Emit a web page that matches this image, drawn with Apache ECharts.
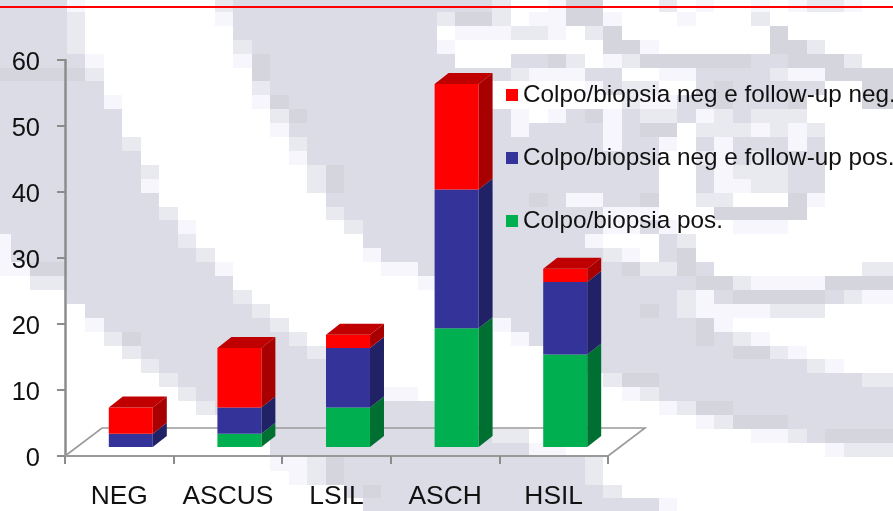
<!DOCTYPE html>
<html>
<head>
<meta charset="utf-8">
<style>html,body{margin:0;padding:0;background:#fff}#c{width:893px;height:511px}</style>
<script src="https://cdn.jsdelivr.net/npm/echarts@6/dist/echarts.min.js"></script>
</head>
<body>
<div id="c"></div>
<script>
const categories = ['NEG', 'ASCUS', 'LSIL', 'ASCH', 'HSIL'];
const positive = [0, 2, 6, 18, 14];
const negFollowPos = [2, 4, 9, 21, 11];
const negFollowNeg = [4, 9, 2, 16, 2];
const yTicks = { min: 0, max: 60, interval: 10 };
const names = ['Colpo/biopsia neg e follow-up neg.', 'Colpo/biopsia neg e follow-up pos.', 'Colpo/biopsia pos.'];

// Decorative pixelated watermark behind the chart: one string per row of blocks.
const watermark = [
"####.       :###########" + "###:  .%%   : .  . .::.  ",
"####:       .###########" + ":%%: ..%%.   .   :       ",
"####:        ###########" + " ...::. :%        %      ",
"####:        :##########" + ".        %%.      %%:    ",
"#####.       .%#########" + "#   ##%: .:%%%%%%##%%%:  ",
"%%%%%:        %#########" + "####:...##  ..####:..%%%%",
"######        :#########" + "###     .#::  #%#####  %%",
"######.       .%########" + "###       :..##%###%   %%",
"#######        :%#######" + "####. .#%.#::#.:#:::     ",
"#######        .########" + "####.####.#%% :::.:.:    ",
"#######:        :#######" + "#########.##. #.###.#    ",
"########        .#######" + "############  :.#:###    ",
"########:        :%#####" + "############  #.:::##    ",
"########.        :%#####" + "############  #..::##    ",
"#########         ######" + "#####%#..##%  ::   %.    ",
"#########:        :#####" + "#########...   %%%%%     ",
"##########.        :####" + "#########..#.   ...      ",
".#########:         ####" + "########.   #:           ",
".##########:        .###" + "#########:. #%           ",
"..%%########.        ..#" + "##########%::%#        ::",
"  ::#########          ." + "##############%%:....%%%%",
"    #########:          " + "#############:.#%%%%%#:..",
"     #########:         " + "###########%#:....:::    ",
"     .#########:        " + "###.##########%.         ",
"      :%########:       " + "### .#########%#:.       ",
"       :#########:      " + "###   ##########%%:.     ",
"        :#########      " + "###   ##############:.   ",
"         :########      " + "###      :%%###########::",
"          :#######..... " + "###       .:#############",
"           :############" + "###         .:%%#########",
"              ##########" + "###           .:%%%######",
"               #########" + "###::            ..:#%%%%",
"               #########" + "#####..              .:::",
"               ..:%#####" + "########:                ",
"                .:%#####" + "########:                ",
"                   #%###" + "#########:               ",
"                    ####" + "############.            "
];
const shade = { '#': '#dcdce6', '%': '#d5d5dd', ':': '#e9e9f0', '.': '#f6f6fc' };
const graphics = [];
watermark.forEach(function (row, r) {
  const y0 = Math.round(-2 + 13.9 * r), y1 = Math.round(-2 + 13.9 * (r + 1));
  let c = 0;
  while (c < row.length) {
    const ch = row[c];
    let e = c + 1;
    while (e < row.length && row[e] === ch) e++;
    if (shade[ch]) {
      const x0 = Math.round(-7.5 + 18.5 * c), x1 = Math.round(-7.5 + 18.5 * e);
      graphics.push({
        type: 'rect', silent: true, z: -10,
        shape: { x: x0, y: y0, width: x1 - x0, height: y1 - y0 },
        style: { fill: shade[ch] }
      });
    }
    c = e;
  }
});
graphics.push({
  type: 'rect', silent: true, z: 50,
  shape: { x: 0, y: 6, width: 893, height: 2 }, style: { fill: '#ff0000' }
});

const DEPTH_X = 14, DEPTH_Y = 11;      // bar extrusion
const SHIFT_X = 11.5, SHIFT_Y = 9;     // bars stand in the middle of the floor
const FLOOR_X = 37, FLOOR_Y = 28;      // floor extrusion

function barRender(front, side, top, hasTop) {
  return function (params, api) {
    const i = api.value(0), s = api.value(1), e = api.value(2);
    if (e <= s) return { type: 'group', children: [] };
    const a = api.coord([i, s]), b = api.coord([i, e]);
    const w = api.size([1, 0])[0] * 0.405;
    const x0 = a[0] + SHIFT_X - w / 2, x1 = x0 + w;
    const y0 = a[1] - SHIFT_Y, y1 = b[1] - SHIFT_Y;
    const children = [
      { type: 'polygon', shape: { points: [[x1, y0], [x1 + DEPTH_X, y0 - DEPTH_Y], [x1 + DEPTH_X, y1 - DEPTH_Y], [x1, y1]] }, style: { fill: side } },
      { type: 'rect', shape: { x: x0, y: y1, width: w, height: y0 - y1 }, style: { fill: front } }
    ];
    if (hasTop) {
      children.push({ type: 'polygon', shape: { points: [[x0, y1], [x0 + DEPTH_X, y1 - DEPTH_Y], [x1 + DEPTH_X, y1 - DEPTH_Y], [x1, y1]] }, style: { fill: top } });
    }
    return { type: 'group', children: children };
  };
}

function floorRender(params, api) {
  const cs = params.coordSys;
  const xl = cs.x, xr = cs.x + cs.width, y = api.coord([0, 0])[1];
  const st = { stroke: '#9a9a9a', lineWidth: 1.6, fill: null };
  return { type: 'group', children: [
    { type: 'polyline', shape: { points: [[xl, y], [xl + FLOOR_X, y - FLOOR_Y], [xr + FLOOR_X, y - FLOOR_Y], [xr, y]] }, style: st }
  ] };
}

function segments(base, vals) {
  return categories.map(function (_, i) { return [i, base[i], base[i] + vals[i]]; });
}
const zeros = categories.map(function () { return 0; });
const lvl1 = positive.slice();
const lvl2 = positive.map(function (v, i) { return v + negFollowPos[i]; });

const chart = echarts.init(document.getElementById('c'), null, { renderer: 'canvas' });
chart.setOption({
  animation: false,
  backgroundColor: '#ffffff',
  textStyle: { fontFamily: '"Liberation Sans", Arial, sans-serif' },
  graphic: { elements: graphics },
  grid: { left: 65, right: 285, top: 60, bottom: 55, containLabel: false },
  legend: {
    orient: 'vertical', left: 501, top: 78, itemWidth: 12, itemHeight: 12, itemGap: 39,
    icon: 'rect', selectedMode: false,
    data: names,
    textStyle: { fontSize: 24.3, color: '#111', padding: [2, 0, 0, 0], fontFamily: '"Liberation Sans", Arial, sans-serif' }
  },
  xAxis: {
    type: 'category', data: categories, boundaryGap: true,
    axisLine: { lineStyle: { color: '#999999', width: 2 } },
    axisTick: { show: true, length: 8, lineStyle: { color: '#8c8c8c', width: 2 } },
    axisLabel: { fontSize: 26.4, color: '#111', margin: 28, interval: 0, fontFamily: '"Liberation Sans", Arial, sans-serif' },
    splitLine: { show: false }
  },
  yAxis: {
    type: 'value', min: yTicks.min, max: yTicks.max, interval: yTicks.interval,
    axisLine: { show: true, lineStyle: { color: '#8c8c8c', width: 2.5 } },
    axisTick: { show: true, length: 8, lineStyle: { color: '#8c8c8c', width: 2 } },
    axisLabel: {
      margin: 25, formatter: '{t|{value}}',
      rich: { t: { fontSize: 25.5, color: '#111', padding: [6, 0, 0, 0], fontFamily: '"Liberation Sans", Arial, sans-serif' } }
    },
    splitLine: { show: false }
  },
  series: [
    { type: 'custom', name: 'floor', coordinateSystem: 'cartesian2d', z: 1, silent: true,
      renderItem: floorRender, data: [[0, 0, 0]], encode: { x: 0, y: 1 }, clip: false },
    { type: 'custom', name: names[2], coordinateSystem: 'cartesian2d', z: 3, clip: false, silent: true,
      itemStyle: { color: '#00b050' }, encode: { x: 0, y: [1, 2] },
      renderItem: barRender('#00b050', '#006f32', '#008a3e', false), data: segments(zeros, positive) },
    { type: 'custom', name: names[1], coordinateSystem: 'cartesian2d', z: 4, clip: false, silent: true,
      itemStyle: { color: '#333399' }, encode: { x: 0, y: [1, 2] },
      renderItem: barRender('#333399', '#212166', '#28287a', false), data: segments(lvl1, negFollowPos) },
    { type: 'custom', name: names[0], coordinateSystem: 'cartesian2d', z: 5, clip: false, silent: true,
      itemStyle: { color: '#ff0000' }, encode: { x: 0, y: [1, 2] },
      renderItem: barRender('#ff0000', '#a80000', '#c00000', true), data: segments(lvl2, negFollowNeg) }
  ]
});
</script>
</body>
</html>
